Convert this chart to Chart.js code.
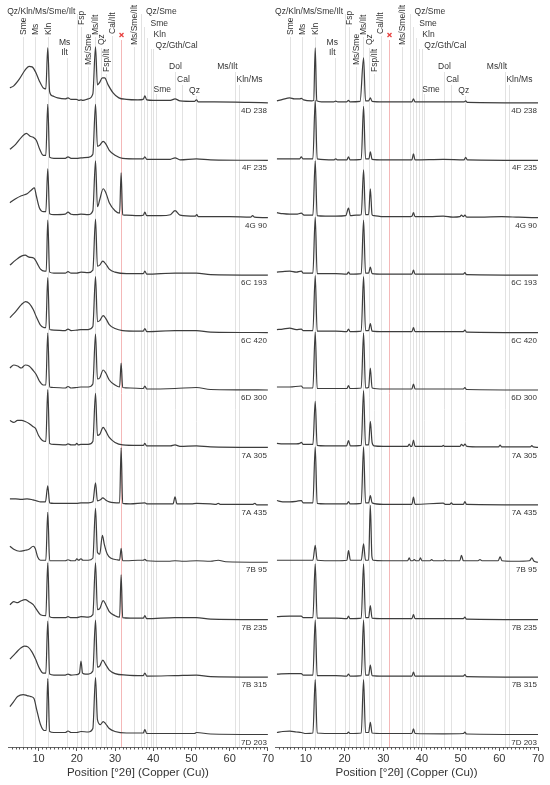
<!DOCTYPE html>
<html>
<head>
<meta charset="utf-8">
<script src="https://cdn.jsdelivr.net/npm/chart.js@4.4.1/dist/chart.umd.min.js"></script>
<style>
  html, body { margin: 0; padding: 0; background: #fff; }
  #wrap { position: relative; width: 550px; height: 785px; }
  canvas { position: absolute; top: 0; }
</style>
</head>
<body>
<div id="wrap">
  <canvas id="leftChart" width="275" height="785" style="left:0"></canvas>
  <canvas id="rightChart" width="275" height="785" style="left:275px"></canvas>
</div>
<script>
// sample names, top to bottom
const sampleNames = ['4D 238', '4F 235', '4G 90', '6C 193', '6C 420', '6D 300',
                     '7A 305', '7A 435', '7B 95', '7B 235', '7B 315', '7D 203'];

// reference phase positions (°2θ) and the red marked one
const refLines = [5.9, 9.0, 12.4, 17.5, 20.0, 21.1, 23.0, 24.8, 26.4, 27.7, 29.3, 31.6,
                  34.9, 36.8, 37.7, 38.4, 39.3, 39.9, 40.6, 45.7, 47.5, 51.2, 61.5, 62.4];
const markedLine = 31.6;

// [°2θ, intensity above the pattern baseline]
// left panel
const L_4D238 = [[2.5,15],[3.5,17],[5,24],[6.5,33],[7.5,36.5],[8.3,36],[9.2,31],[10.2,22],[11.2,15],[11.9,14],[12.4,55],[12.9,11],[13.6,7],[15,5],[17,4],[17.7,5],[18.5,3.5],[19.9,3.5],[20.5,2.5],[21.1,3],[21.6,2.5],[23,4],[24.2,9],[24.9,56],[25.4,18],[25.9,20],[26.7,25],[27.3,25],[28.2,18],[29.5,10],[31,5],[33,3.5],[36,3],[37.4,3.5],[37.8,7],[38.3,3],[40,2.5],[44.5,2.5],[45.7,4],[47,2],[50.8,1.5],[51.3,3],[51.8,1],[56,1],[65,0.5],[70,0]];
const L_4F235 = [[2.5,11],[4,16],[5.5,23],[6.8,27],[7.8,24],[8.6,23],[9.4,20],[10.3,11],[11.2,5],[11.9,5],[12.4,56],[12.9,3],[14,2],[17,2],[17.7,3.5],[18.5,2],[20,2],[21.1,2.5],[23,3],[24.2,6],[24.9,56],[25.4,14],[26,15],[26.9,19],[27.5,17],[28.5,10],[30,5],[32,2],[36,1.5],[37.4,1.5],[37.8,3.5],[38.3,1],[44.5,1],[45.7,2.5],[47,0.5],[51.3,1.5],[55,0.5],[70,0]];
const L_4G90 = [[2.5,15],[4,19],[5.5,22],[7,24],[8.2,28],[8.9,30],[9.4,22],[10.2,10],[11.3,6],[11.9,6],[12.4,49],[12.9,4],[14,3],[17,3.5],[17.7,5.5],[18.5,3.5],[20,3],[21.1,3.5],[23,3],[24.2,7],[24.9,57],[25.4,11],[26,18],[26.9,29],[27.6,25],[28.5,15],[30,7],[31.2,4.5],[31.6,45],[32,3],[33,2.5],[36,2],[37.4,2.5],[37.8,5.5],[38.3,2],[42,2],[44.5,3],[45.7,7],[47,2.5],[51,1.5],[51.4,3],[51.8,1],[60,1],[65.5,0.5],[66,2],[66.5,0.5],[70,0]];
const L_6C193 = [[2.5,10],[4,15],[5.5,19],[6.5,20],[7.5,18],[8.8,17],[9.6,12],[10.5,6],[11.5,4],[12,4],[12.4,55],[12.9,3],[14,2],[17,2],[17.7,3.5],[18.5,2],[20,2],[21.1,3],[23,2.5],[24.2,5],[24.9,56],[25.4,9],[26,10],[26.8,14],[27.6,11],[28.5,6],[30,3],[33,1.5],[37.4,1.5],[37.8,4],[38.3,1],[45.7,2],[51.3,2],[55,0.5],[70,0]];
const L_6C420 = [[2.5,15],[4,21],[5.5,28],[6.6,31],[7.6,29],[8.6,23],[9.5,15],[10.4,8],[11.4,5],[11.9,5],[12.4,55],[12.9,3],[14,2.5],[17,2],[17.7,3.5],[18.5,2],[20,2.5],[21.1,3],[23,3],[24.2,6],[24.9,56],[25.4,11],[26,12],[26.9,17],[27.6,14],[28.5,8],[30,4],[32,2],[36,1.5],[37.4,1.5],[37.8,4],[38.3,1],[45.7,2],[51.3,2],[55,0.5],[70,0]];
const L_6D300 = [[2.5,22],[3.5,25],[4.5,24],[5.5,22],[6.5,25],[7.5,24],[8.5,20],[9.3,16],[10.2,9],[11.2,5],[11.9,5],[12.4,57],[12.9,3],[14,2.5],[17,2],[17.7,3.5],[18.5,2],[20,2.5],[21.1,3],[23,3],[24.2,6],[24.9,56],[25.4,11],[26,12],[26.9,20],[27.6,17],[28.5,10],[30,5],[31.2,3],[31.6,27],[32,2.5],[34,2],[37.4,1.5],[37.8,4],[38.3,1],[45.7,1.5],[51.3,2.5],[55,0.5],[70,0]];
const L_7A305 = [[2.5,27],[3.5,25],[4.5,27],[5.5,27],[6.5,26],[7.5,24],[8.5,21],[9.2,19],[10,12],[11,7],[11.9,6],[12.4,58],[12.9,4],[14,3],[17,2.5],[17.7,3.5],[18.5,2.5],[19.6,2.5],[20,4],[20.4,2.5],[21.1,3],[23,3],[24.2,6],[24.9,54],[25.4,12],[26,13],[26.9,20],[27.5,17],[28.5,10],[30,5],[32,2.5],[36,2],[37.4,2],[37.8,4],[38.3,1.5],[44.5,1.5],[45.7,2.5],[47,1],[51.3,1.5],[55,0.5],[70,0]];
const L_7A435 = [[2.5,6],[4,6],[5.5,5.5],[7,6],[8.5,5],[9.5,4],[10.5,3],[11.8,3],[12.4,19],[12.9,2],[14,1.5],[17.7,1.5],[20,1.5],[21.1,2],[23,2],[24.2,3],[24.9,22],[25.4,4],[26.2,5],[26.8,7],[27.5,5],[28.5,3],[31.2,2],[31.6,57],[32,1.5],[34,1],[37.8,2],[38.3,1],[45.2,1],[45.7,8],[46.2,1],[50,1],[51.3,1.5],[55,1],[56.5,0.5],[57,1.5],[57.5,0.5],[66.1,0.5],[66.6,1.5],[67.1,0],[70,0]];
const L_7B95 = [[2.5,16],[3.5,13],[5,11],[6.5,12],[7.5,13],[8.6,16],[9.1,14],[9.8,5],[10.5,2],[11.9,2],[12.4,50],[12.9,1.5],[14,1.5],[17,1.5],[17.7,2.5],[18.5,1.5],[19.6,1.5],[20,3.5],[20.5,2],[21.1,3.5],[21.6,2],[23,2],[24.2,4],[24.9,54],[25.4,10],[26,8],[26.7,27],[27.2,18],[28,8],[29,4],[30.5,2.5],[31.2,2],[31.6,14],[32,1.5],[33,1.5],[36,2],[37.4,2],[37.8,3],[38.3,1.5],[44,1],[45.7,1.5],[48,1],[51.3,1.5],[55,1],[57,2],[59,0.5],[70,0]];
const L_7B235 = [[2.5,15],[3.5,18],[4.5,17],[5.5,19],[6.5,20],[7.5,18],[8.6,15],[9.5,10],[10.5,5],[11.9,4],[12.4,57],[12.9,3],[14,2],[17,2],[17.7,3],[18.5,2],[20,2],[21.1,3],[23,2.5],[24.2,5],[24.9,57],[25.4,10],[26,11],[26.9,19],[27.6,15],[28.5,8],[30,4],[31.2,2.5],[31.6,45],[32,2],[34,1.5],[37.4,1.5],[37.8,4],[38.3,1],[45.7,2],[51.3,2],[55,0.5],[70,0]];
const L_7B315 = [[2.5,18],[4,24],[5.3,29],[6.3,31],[7.3,30],[8.3,25],[9.2,18],[10.2,9],[11.2,4],[11.9,4],[12.4,56],[12.9,3],[14,2],[17,2],[17.7,3],[18.5,2],[20,2.5],[20.7,4],[21.1,16],[21.5,4],[22.3,3],[23,3],[24.2,6],[24.9,57],[25.4,10],[26,11],[26.8,17],[27.5,13],[28.5,7],[30,3.5],[33,2],[37.4,1.5],[37.8,4],[38.3,1],[45.7,1.5],[51.3,2],[55,0.5],[70,0]];
const L_7D203 = [[2.5,28],[3.5,33],[4.5,38],[6,40],[7,39],[8,38],[8.8,36],[9.5,25],[10.5,10],[11.5,4],[12,4],[12.4,56],[12.9,3],[14,2],[17,2],[17.7,3.5],[18.5,2],[20,2],[21.1,3],[23,2.5],[24.2,6],[24.9,57],[25.4,15],[26.2,10],[26.9,13],[27.5,11],[28.5,6],[30,3],[33,1.5],[37.4,1.5],[37.8,5],[38.3,1],[45.7,1],[50.8,1],[51.3,2],[55,0.5],[70,0]];

// right panel
const R_4D238 = [[2.5,2],[4,3.5],[5.8,5],[7,4],[8.4,4],[8.8,4.5],[9.4,3],[11.5,2],[12,2.5],[12.4,55],[12.8,2],[14,1],[17.2,1],[17.7,1.8],[18.2,1],[20.5,1],[21,2.5],[21.4,1],[24,1.5],[24.9,45],[25.4,2],[26.2,2],[26.65,5],[27.1,1.5],[30,1],[36,1],[37.4,1],[37.8,4],[38.2,1],[45.5,1],[50.9,1],[51.3,2],[51.7,0.5],[70,0]];
const R_4F235 = [[2.5,1.5],[5.8,1.5],[8.4,1.5],[8.8,3.5],[9.2,1.5],[11.8,1.5],[12.4,60],[12.9,1.5],[17.3,0.5],[17.7,1.5],[18.1,0.5],[20.6,0.5],[21,3.5],[21.4,0.5],[24.3,1],[24.9,54],[25.4,1.5],[26.3,1.5],[26.65,8.5],[27.1,1],[30,0.5],[37.4,0.5],[37.8,6.5],[38.2,0.5],[45.5,1],[50.9,0.5],[51.3,3],[51.7,0.5],[70,0]];
const R_4G90 = [[2.5,5],[4,4],[5.8,3.5],[7.5,3.5],[8.8,4.5],[9.5,2.5],[11.8,2.5],[12.4,57],[12.9,2],[15,1.5],[17.7,1.5],[20.3,2],[21,9.5],[21.5,2],[23,2.5],[24.3,3],[24.9,48],[25.4,3],[26.2,3],[26.65,29],[27.1,3],[27.6,2],[30,1],[34,1],[36.5,1],[37.4,1.5],[37.8,5],[38.2,1],[42,1],[45.5,1.5],[48,0.5],[49.8,1],[50.2,2.5],[50.7,1],[51.1,2.5],[51.6,0.5],[55,0.5],[60.6,1],[65,0.5],[70,0]];
const R_6C193 = [[2.5,3],[4,3.5],[5.8,4],[7.5,3],[8.8,4],[9.3,2],[11.8,2],[12.4,58],[12.9,1.5],[17.7,1.5],[20.6,1],[21,3],[21.4,1],[24.3,1.5],[24.9,55],[25.4,2],[26.2,2],[26.65,8],[27.1,1.5],[30,1],[37.4,1],[37.8,5],[38.2,1],[45.5,1],[50.7,1],[51.1,2.5],[51.5,0.5],[70,0]];
const R_6C420 = [[2.5,3],[4,3.5],[5.8,4.5],[7.5,3],[8.8,3.5],[9.3,2],[11.8,2],[12.4,57],[12.9,1.5],[17.7,1.5],[20.6,1],[21,3.5],[21.4,1],[24.3,1.5],[24.9,56],[25.4,2],[26.2,2],[26.65,9],[27.1,1.5],[30,1],[37.4,1],[37.8,5],[38.2,1],[45.5,1],[50.7,1],[51.1,2.5],[51.5,0.5],[70,0]];
const R_6D300 = [[2.5,3],[5.8,3],[8.8,4],[9.3,2],[11.8,2],[12.4,58],[12.9,1.5],[17.7,1.5],[20.6,1.5],[21,4.5],[21.4,1.5],[24.3,2],[24.9,57],[25.4,2],[26.2,2.5],[26.65,22],[27.1,2],[30,1],[37.4,1],[37.8,6],[38.2,1],[45.5,1],[50.7,1],[51.1,2.5],[51.5,0.5],[70,0]];
const R_7A305 = [[2.5,4],[4,3.5],[5.8,3.5],[7.5,3.5],[8.4,4],[8.8,5],[9.3,3],[11.8,3],[12.4,46],[12.9,2],[15,1.5],[17.7,1.5],[20.5,1.5],[21,6.7],[21.5,1.5],[24.3,2],[24.9,57],[25.4,2.5],[26.2,2.5],[26.65,26],[27.1,5],[27.6,1.5],[30,1],[36.3,1],[36.7,3.3],[37.1,1],[37.4,1],[37.8,7.3],[38.2,1],[42,1],[45.2,1],[45.5,2],[45.8,1],[49.8,1],[50.2,3],[50.7,1.5],[51.1,3.3],[51.6,1],[55,0.5],[59.8,0.5],[60.2,2.3],[60.6,0.5],[68,0.5],[68.4,1.7],[68.8,0.5],[70,0]];
const R_7A435 = [[2.5,4.3],[4,3],[5.8,3],[7.5,3.5],[8.8,4.3],[9.3,2],[11.8,2],[12.4,58],[12.9,1.5],[15,1],[17.7,1],[20.6,1],[21,3.3],[21.4,1],[24.3,1.5],[24.9,58],[25.4,2],[26.2,2],[26.65,9.3],[27.1,2],[30,0.5],[37.4,0.5],[37.8,7.7],[38.2,0.5],[45.5,1.7],[46,0.5],[47.2,0.5],[47.6,2],[48,0.5],[50.7,0.5],[51.1,3.3],[51.5,0.5],[70,0]];
const R_7B95 = [[2.5,2],[5.8,2],[8.8,2],[11.8,2],[12.4,17],[12.9,2],[17.7,1.5],[20.6,2],[21,11.7],[21.5,2],[24.3,2],[24.9,18.3],[25.4,2],[26.2,2],[26.65,57],[27.05,6],[27.4,2],[30,1.5],[36.3,1.5],[36.7,4.3],[37.1,1.5],[37.6,1.5],[38,2.7],[38.4,1.5],[39.2,1.5],[39.6,4.3],[40,1.5],[42.1,1.5],[42.5,2.7],[42.9,1.5],[45.5,1.5],[45.9,2.3],[46.3,1.5],[49.8,1.5],[50.2,7],[50.7,1.5],[54.5,1.5],[55,2.7],[55.5,1.5],[59.7,1.5],[60.2,5.3],[60.7,1.5],[64,1],[67.8,1.5],[68.4,4.3],[69,1],[70,0]];
const R_7B235 = [[2.5,3],[5.8,3.5],[8.8,3.5],[9.3,2],[11.8,2],[12.4,56],[12.9,1.5],[17.7,1.5],[20.6,1],[21,3.5],[21.4,1],[24.3,1.5],[24.9,56],[25.4,2],[26.2,2],[26.65,14],[27.1,1.5],[30,1],[37.4,1],[37.8,5],[38.2,1],[45.5,1],[50.7,1],[51.1,2.5],[51.5,0.5],[70,0]];
const R_7B315 = [[2.5,3],[5.8,3.5],[8.8,3.5],[9.3,2],[11.8,2],[12.4,57],[12.9,1.5],[17.7,1.5],[20.6,1],[21,3],[21.4,1],[24.3,1.5],[24.9,57],[25.4,2],[26.2,2],[26.65,12],[27.1,1.5],[30,1],[37.4,1],[37.8,5],[38.2,1],[45.5,1],[50.7,1],[51.1,2.5],[51.5,0.5],[70,0]];
const R_7D203 = [[2.5,2],[4,3],[5.8,3.3],[7.5,2.5],[8.8,2],[10,1],[11.8,1.5],[12.4,55],[12.9,1.5],[17.7,1],[20.6,1],[21,2.3],[21.4,1],[24.3,1.5],[24.9,55],[25.4,2],[26.2,2],[26.65,12.3],[27.1,1.5],[30,1],[37.4,1],[37.8,5.7],[38.2,1],[45.5,0.7],[50.7,1],[51.1,2.3],[51.5,0.5],[70,0]];

const leftTraces = [L_4D238, L_4F235, L_4G90, L_6C193, L_6C420, L_6D300, L_7A305, L_7A435, L_7B95, L_7B235, L_7B315, L_7D203];
const rightTraces = [R_4D238, R_4F235, R_4G90, R_6C193, R_6C420, R_6D300, R_7A305, R_7A435, R_7B95, R_7B235, R_7B315, R_7D203];

// ---- layout ----
const FONT = "'Liberation Sans', Arial, sans-serif";
const ROW_STEP = 57.5;      // vertical spacing between patterns
const BOTTOM_GAP = 12.5;    // lowest baseline above the axis
const AXIS_BOTTOM = 748;    // y max so one unit is one pixel

// top y of every reference line (same order as refLines)
const lineTops = [37, 37, 37, 58, 14, 27, 67, 37, 48, 74, 36, 40, 47, 14, 27, 38, 49, 49, 94, 72, 85, 96, 72, 85];

// phase labels: text, °2θ anchor, kind (v = rotated, l/c/r = horizontal align), y
const phaseLabels = [
  ['Sme', 5.9, 'v', 35], ['Ms', 9.0, 'v', 35], ['Kln', 12.4, 'v', 35],
  ['Fsp', 21.1, 'v', 25], ['Ms/Sme', 23.0, 'v', 65], ['Ms/Ilt', 24.8, 'v', 35],
  ['Qz', 26.4, 'v', 45], ['Fsp/Ilt', 27.7, 'v', 72], ['Cal/Ilt', 29.3, 'v', 34],
  ['Ms/Sme/Ilt', 34.9, 'v', 45],
  ['Qz/Kln/Ms/Sme/Ilt', 19.6, 'r', 12],
  ['Ms', 16.8, 'c', 43], ['Ilt', 16.8, 'c', 53],
  ['Qz/Sme', 38.1, 'l', 12], ['Sme', 39.3, 'l', 24], ['Kln', 40.1, 'l', 35],
  ['Qz/Gth/Cal', 40.6, 'l', 46], ['Sme', 40.1, 'l', 90],
  ['Dol', 45.8, 'c', 67], ['Cal', 47.9, 'c', 80], ['Qz', 50.8, 'c', 91],
  ['Ms/Ilt', 59.4, 'c', 67], ['Kln/Ms', 65.2, 'c', 80]
];

const rowOffset = i => (sampleNames.length - 1 - i) * ROW_STEP + BOTTOM_GAP;

const phasePlugin = {
  id: 'phases',
  beforeDatasetsDraw(chart) {
    const { ctx, chartArea, scales: { x } } = chart;
    ctx.save();
    ctx.lineWidth = 1;
    refLines.forEach((deg, i) => {
      const px = Math.round(x.getPixelForValue(deg)) + 0.5;
      ctx.strokeStyle = deg === markedLine ? '#f4b8b8' : '#e2e2e2';
      ctx.beginPath();
      ctx.moveTo(px, lineTops[i]);
      ctx.lineTo(px, chartArea.bottom);
      ctx.stroke();
    });
    ctx.fillStyle = '#333';
    ctx.font = '8.5px ' + FONT;
    ctx.textBaseline = 'middle';
    phaseLabels.forEach(([text, deg, kind, y]) => {
      const px = x.getPixelForValue(deg);
      if (kind === 'v') {
        ctx.save();
        ctx.translate(px + 0.5, y);
        ctx.rotate(-Math.PI / 2);
        ctx.textAlign = 'left';
        ctx.fillText(text, 0, 0);
        ctx.restore();
      } else {
        ctx.textAlign = kind === 'l' ? 'left' : kind === 'r' ? 'right' : 'center';
        ctx.fillText(text, px, y);
      }
    });
    // red marker
    const mx = Math.round(x.getPixelForValue(markedLine)) + 0.5;
    ctx.strokeStyle = '#e8403f';
    ctx.lineWidth = 1.3;
    ctx.beginPath();
    ctx.moveTo(mx - 2, 33); ctx.lineTo(mx + 2, 37);
    ctx.moveTo(mx + 2, 33); ctx.lineTo(mx - 2, 37);
    ctx.stroke();
    ctx.restore();
  },
  afterDatasetsDraw(chart) {
    const { ctx, chartArea, scales: { x, y } } = chart;
    ctx.save();
    ctx.fillStyle = '#333';
    ctx.font = '8px ' + FONT;
    ctx.textAlign = 'right';
    ctx.textBaseline = 'middle';
    sampleNames.forEach((name, i) => {
      ctx.fillText(name, chartArea.right - 1, y.getPixelForValue(rowOffset(i)) + 8);
    });
    // minor ticks every degree
    ctx.strokeStyle = '#555';
    ctx.lineWidth = 1;
    ctx.beginPath();
    for (let v = 3; v < 70; v++) {
      if (v % 10 === 0) continue;
      const px = Math.round(x.getPixelForValue(v)) + 0.5;
      ctx.moveTo(px, chartArea.bottom);
      ctx.lineTo(px, chartArea.bottom + 2.5);
    }
    ctx.stroke();
    ctx.restore();
  }
};

function makeChart(id, traces, padLeft, padRight) {
  const datasets = traces.map((trace, i) => ({
    label: sampleNames[i],
    data: trace.map(([deg, val]) => ({ x: deg, y: val + rowOffset(i) })),
    borderColor: '#3d3d3d',
    borderWidth: 1.2,
    pointRadius: 0,
    cubicInterpolationMode: 'monotone',
    fill: false
  }));
  return new Chart(document.getElementById(id), {
    type: 'line',
    data: { datasets },
    options: {
      responsive: false,
      animation: false,
      events: [],
      layout: { padding: { left: padLeft, right: padRight, top: 0, bottom: 5 } },
      plugins: { legend: { display: false }, tooltip: { enabled: false } },
      scales: {
        x: {
          type: 'linear',
          min: 2,
          max: 70,
          border: { display: true, color: '#666', width: 1 },
          grid: { drawOnChartArea: false, tickLength: 4, color: '#555' },
          ticks: {
            stepSize: 10,
            includeBounds: false,
            autoSkip: false,
            maxRotation: 0,
            padding: 1,
            color: '#333',
            font: { family: FONT, size: 11 }
          },
          title: {
            display: true,
            text: 'Position [°2θ] (Copper (Cu))',
            color: '#333',
            font: { family: FONT, size: 11.5 },
            padding: { top: 0, bottom: 0 }
          }
        },
        y: { display: false, min: 0, max: AXIS_BOTTOM }
      }
    },
    plugins: [phasePlugin]
  });
}

makeChart('leftChart', leftTraces, 8, 5);
makeChart('rightChart', rightTraces, 0, 12);
</script>
</body>
</html>
